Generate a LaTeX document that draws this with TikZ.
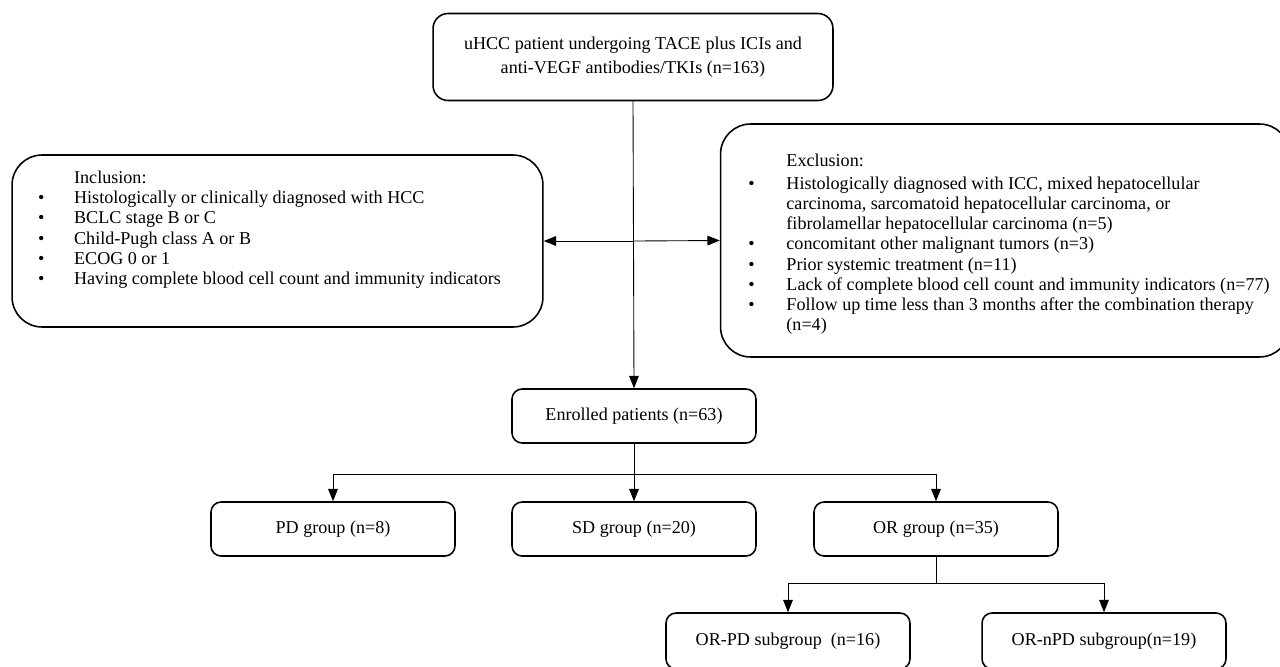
\documentclass[tikz,border=0pt]{standalone}
\usepackage{fontspec}
\setmainfont{Liberation Serif}
\usetikzlibrary{positioning}
\usetikzlibrary{arrows.meta}

\begin{document}
\begin{tikzpicture}[x=0.02cm, y=-0.02cm,
    txt/.style={font=\fontsize{10.3}{11.4}\selectfont},
    box/.style={txt, draw, line width=0.9pt, rounded corners=0.2cm, minimum width=4.88cm, minimum height=1.08cm},
    bigbox/.style={txt, draw, line width=0.9pt, rounded corners=0.6cm, align=left},
    arr/.style={-{Triangle[length=7pt, width=5.5pt]}, line width=0.5pt}]
  \useasboundingbox (0,0) rectangle (1280,666);

  \node[box, minimum width=8cm, minimum height=1.74cm, rounded corners=0.3cm, align=center] (start) at (633,57)
    {uHCC patient undergoing TACE plus ICIs and\\[2.5pt] anti-VEGF antibodies/TKIs (n=163)};

  \node[bigbox, minimum width=10.62cm, minimum height=3.44cm] (incl) at (277.5,241) {%
    \begin{tabular}{@{}p{0.72cm}@{}l@{\hspace{0.32cm}}}
      & Inclusion:\\
      \textbullet & Histologically or clinically diagnosed with HCC\\
      \textbullet & BCLC stage B or C\\
      \textbullet & Child-Pugh class A or B\\
      \textbullet & ECOG 0 or 1\\
      \textbullet & Having complete blood cell count and immunity indicators\\[0.44cm]
    \end{tabular}};

  \node[bigbox, minimum width=11.38cm, minimum height=4.66cm] (excl) at (1005,240.5) {%
    \begin{tabular}{@{\hspace{0.16cm}}p{0.76cm}@{}l@{}}
      \rule{0pt}{12.5pt}& Exclusion:\\[1.7pt]
      \textbullet & Histologically diagnosed with ICC, mixed hepatocellular\\
      & carcinoma, sarcomatoid hepatocellular carcinoma, or\\
      & fibrolamellar hepatocellular carcinoma (n=5)\\
      \textbullet & concomitant other malignant tumors (n=3)\\
      \textbullet & Prior systemic treatment (n=11)\\
      \textbullet & Lack of complete blood cell count and immunity indicators (n=77)\\
      \textbullet & Follow up time less than 3 months after the combination therapy\\
      & (n=4)
    \end{tabular}};

  \node[box] (enrolled) at (634,416) {Enrolled patients (n=63)};

  \node[box] (pd) at (333,529) {PD group (n=8)};
  \node[box] (sd) at (634,529) {SD group (n=20)};
  \node[box] (or) at (936,529) {OR group (n=35)};

  \node[box, minimum height=1.12cm] (orpd) at (788,641) {OR-PD subgroup~~(n=16)};
  \node[box, minimum height=1.12cm] (ornpd) at (1104,641) {OR-nPD subgroup(n=19)};

  \coordinate (mid) at (634,241);
  \coordinate (split) at (634,474);
  \coordinate (split_or) at (936,583);

  \draw[arr] (start.south) -- (enrolled.north);
  \draw[arr] (mid) -- (incl.east);
  \draw[arr] (mid) -- (excl.west);

  \draw[line width=0.5pt] (enrolled.south) -- (split);
  \draw[arr] (split) -| (pd.north);
  \draw[arr] (split) -- (sd.north);
  \draw[arr] (split) -| (or.north);

  \draw[line width=0.5pt] (or.south) -- (split_or);
  \draw[arr] (split_or) -| (orpd.north);
  \draw[arr] (split_or) -| (ornpd.north);
\end{tikzpicture}
\end{document}
